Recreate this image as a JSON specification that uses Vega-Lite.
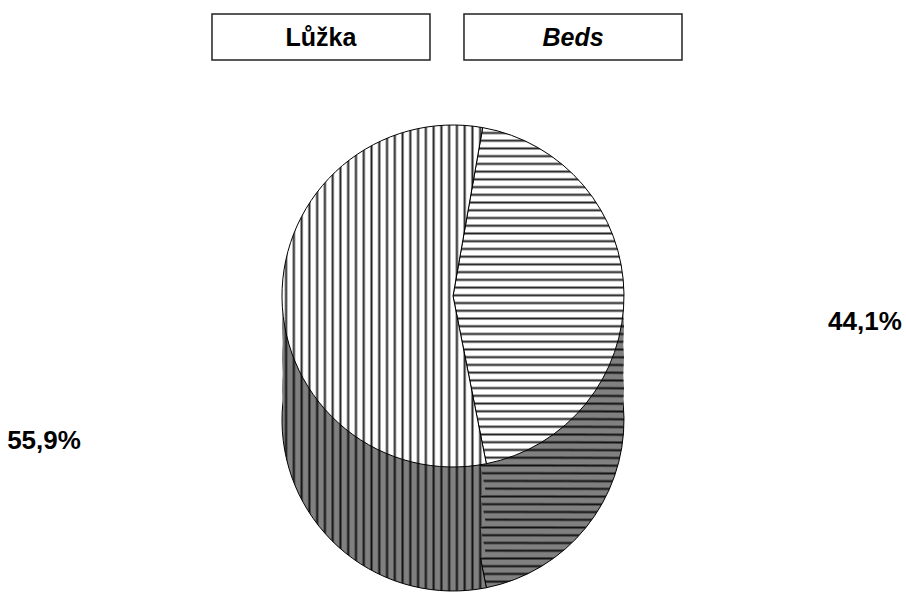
{
"$schema":"https://vega.github.io/schema/vega-lite/v6.json",
"width":906,"height":593,
"autosize":{"type":"fit","contains":"padding"},
"padding":0,
"background":"white",
"config":{"view":{"stroke":null},"locale":{"number":{"decimal":",","thousands":" ","grouping":[3],"currency":[""," Kč"]}}},
"params":[
{"name":"gTA","value":{"gradient":"linear","x1":0,"y1":0,"x2":0,"y2":1,"stops":[
{"offset":0.010,"color":"#fff"},{"offset":0.016,"color":"#222"},{"offset":0.022,"color":"#fff"},
{"offset":0.033,"color":"#fff"},{"offset":0.039,"color":"#222"},{"offset":0.045,"color":"#fff"},
{"offset":0.056,"color":"#fff"},{"offset":0.062,"color":"#222"},{"offset":0.068,"color":"#fff"},
{"offset":0.079,"color":"#fff"},{"offset":0.085,"color":"#222"},{"offset":0.091,"color":"#fff"},
{"offset":0.102,"color":"#fff"},{"offset":0.108,"color":"#222"},{"offset":0.114,"color":"#fff"},
{"offset":0.125,"color":"#fff"},{"offset":0.131,"color":"#222"},{"offset":0.137,"color":"#fff"},
{"offset":0.148,"color":"#fff"},{"offset":0.154,"color":"#222"},{"offset":0.160,"color":"#fff"},
{"offset":0.171,"color":"#fff"},{"offset":0.177,"color":"#222"},{"offset":0.183,"color":"#fff"},
{"offset":0.194,"color":"#fff"},{"offset":0.200,"color":"#222"},{"offset":0.206,"color":"#fff"},
{"offset":0.217,"color":"#fff"},{"offset":0.223,"color":"#222"},{"offset":0.229,"color":"#fff"},
{"offset":0.240,"color":"#fff"},{"offset":0.246,"color":"#222"},{"offset":0.252,"color":"#fff"},
{"offset":0.263,"color":"#fff"},{"offset":0.269,"color":"#222"},{"offset":0.275,"color":"#fff"},
{"offset":0.286,"color":"#fff"},{"offset":0.292,"color":"#222"},{"offset":0.298,"color":"#fff"},
{"offset":0.309,"color":"#fff"},{"offset":0.315,"color":"#222"},{"offset":0.321,"color":"#fff"},
{"offset":0.332,"color":"#fff"},{"offset":0.338,"color":"#222"},{"offset":0.344,"color":"#fff"},
{"offset":0.355,"color":"#fff"},{"offset":0.361,"color":"#222"},{"offset":0.367,"color":"#fff"},
{"offset":0.378,"color":"#fff"},{"offset":0.384,"color":"#222"},{"offset":0.390,"color":"#fff"},
{"offset":0.401,"color":"#fff"},{"offset":0.407,"color":"#222"},{"offset":0.413,"color":"#fff"},
{"offset":0.424,"color":"#fff"},{"offset":0.430,"color":"#222"},{"offset":0.436,"color":"#fff"},
{"offset":0.447,"color":"#fff"},{"offset":0.453,"color":"#222"},{"offset":0.459,"color":"#fff"},
{"offset":0.470,"color":"#fff"},{"offset":0.476,"color":"#222"},{"offset":0.482,"color":"#fff"},
{"offset":0.493,"color":"#fff"},{"offset":0.499,"color":"#222"},{"offset":0.505,"color":"#fff"},
{"offset":0.516,"color":"#fff"},{"offset":0.522,"color":"#222"},{"offset":0.528,"color":"#fff"},
{"offset":0.539,"color":"#fff"},{"offset":0.545,"color":"#222"},{"offset":0.551,"color":"#fff"},
{"offset":0.562,"color":"#fff"},{"offset":0.568,"color":"#222"},{"offset":0.574,"color":"#fff"},
{"offset":0.585,"color":"#fff"},{"offset":0.591,"color":"#222"},{"offset":0.597,"color":"#fff"},
{"offset":0.608,"color":"#fff"},{"offset":0.614,"color":"#222"},{"offset":0.620,"color":"#fff"},
{"offset":0.631,"color":"#fff"},{"offset":0.637,"color":"#222"},{"offset":0.643,"color":"#fff"},
{"offset":0.654,"color":"#fff"},{"offset":0.660,"color":"#222"},{"offset":0.666,"color":"#fff"},
{"offset":0.677,"color":"#fff"},{"offset":0.683,"color":"#222"},{"offset":0.689,"color":"#fff"},
{"offset":0.700,"color":"#fff"},{"offset":0.706,"color":"#222"},{"offset":0.712,"color":"#fff"},
{"offset":0.723,"color":"#fff"},{"offset":0.729,"color":"#222"},{"offset":0.735,"color":"#fff"},
{"offset":0.746,"color":"#fff"},{"offset":0.752,"color":"#222"},{"offset":0.758,"color":"#fff"},
{"offset":0.769,"color":"#fff"},{"offset":0.775,"color":"#222"},{"offset":0.781,"color":"#fff"},
{"offset":0.792,"color":"#fff"},{"offset":0.798,"color":"#222"},{"offset":0.804,"color":"#fff"},
{"offset":0.815,"color":"#fff"},{"offset":0.821,"color":"#222"},{"offset":0.827,"color":"#fff"},
{"offset":0.838,"color":"#fff"},{"offset":0.844,"color":"#222"},{"offset":0.850,"color":"#fff"},
{"offset":0.861,"color":"#fff"},{"offset":0.867,"color":"#222"},{"offset":0.873,"color":"#fff"},
{"offset":0.884,"color":"#fff"},{"offset":0.890,"color":"#222"},{"offset":0.896,"color":"#fff"},
{"offset":0.907,"color":"#fff"},{"offset":0.913,"color":"#222"},{"offset":0.919,"color":"#fff"},
{"offset":0.930,"color":"#fff"},{"offset":0.936,"color":"#222"},{"offset":0.942,"color":"#fff"},
{"offset":0.953,"color":"#fff"},{"offset":0.959,"color":"#222"},{"offset":0.965,"color":"#fff"},
{"offset":0.976,"color":"#fff"},{"offset":0.982,"color":"#222"},{"offset":0.988,"color":"#fff"}]}},
{"name":"gSA","value":{"gradient":"linear","x1":0,"y1":0,"x2":0,"y2":1,"stops":[
{"offset":0.010,"color":"#808080"},{"offset":0.016,"color":"#111"},{"offset":0.022,"color":"#808080"},
{"offset":0.033,"color":"#808080"},{"offset":0.039,"color":"#111"},{"offset":0.045,"color":"#808080"},
{"offset":0.056,"color":"#808080"},{"offset":0.062,"color":"#111"},{"offset":0.068,"color":"#808080"},
{"offset":0.079,"color":"#808080"},{"offset":0.085,"color":"#111"},{"offset":0.091,"color":"#808080"},
{"offset":0.102,"color":"#808080"},{"offset":0.108,"color":"#111"},{"offset":0.114,"color":"#808080"},
{"offset":0.125,"color":"#808080"},{"offset":0.131,"color":"#111"},{"offset":0.137,"color":"#808080"},
{"offset":0.148,"color":"#808080"},{"offset":0.154,"color":"#111"},{"offset":0.160,"color":"#808080"},
{"offset":0.171,"color":"#808080"},{"offset":0.177,"color":"#111"},{"offset":0.183,"color":"#808080"},
{"offset":0.194,"color":"#808080"},{"offset":0.200,"color":"#111"},{"offset":0.206,"color":"#808080"},
{"offset":0.217,"color":"#808080"},{"offset":0.223,"color":"#111"},{"offset":0.229,"color":"#808080"},
{"offset":0.240,"color":"#808080"},{"offset":0.246,"color":"#111"},{"offset":0.252,"color":"#808080"},
{"offset":0.263,"color":"#808080"},{"offset":0.269,"color":"#111"},{"offset":0.275,"color":"#808080"},
{"offset":0.286,"color":"#808080"},{"offset":0.292,"color":"#111"},{"offset":0.298,"color":"#808080"},
{"offset":0.309,"color":"#808080"},{"offset":0.315,"color":"#111"},{"offset":0.321,"color":"#808080"},
{"offset":0.332,"color":"#808080"},{"offset":0.338,"color":"#111"},{"offset":0.344,"color":"#808080"},
{"offset":0.355,"color":"#808080"},{"offset":0.361,"color":"#111"},{"offset":0.367,"color":"#808080"},
{"offset":0.378,"color":"#808080"},{"offset":0.384,"color":"#111"},{"offset":0.390,"color":"#808080"},
{"offset":0.401,"color":"#808080"},{"offset":0.407,"color":"#111"},{"offset":0.413,"color":"#808080"},
{"offset":0.424,"color":"#808080"},{"offset":0.430,"color":"#111"},{"offset":0.436,"color":"#808080"},
{"offset":0.447,"color":"#808080"},{"offset":0.453,"color":"#111"},{"offset":0.459,"color":"#808080"},
{"offset":0.470,"color":"#808080"},{"offset":0.476,"color":"#111"},{"offset":0.482,"color":"#808080"},
{"offset":0.493,"color":"#808080"},{"offset":0.499,"color":"#111"},{"offset":0.505,"color":"#808080"},
{"offset":0.516,"color":"#808080"},{"offset":0.522,"color":"#111"},{"offset":0.528,"color":"#808080"},
{"offset":0.539,"color":"#808080"},{"offset":0.545,"color":"#111"},{"offset":0.551,"color":"#808080"},
{"offset":0.562,"color":"#808080"},{"offset":0.568,"color":"#111"},{"offset":0.574,"color":"#808080"},
{"offset":0.585,"color":"#808080"},{"offset":0.591,"color":"#111"},{"offset":0.597,"color":"#808080"},
{"offset":0.608,"color":"#808080"},{"offset":0.614,"color":"#111"},{"offset":0.620,"color":"#808080"},
{"offset":0.631,"color":"#808080"},{"offset":0.637,"color":"#111"},{"offset":0.643,"color":"#808080"},
{"offset":0.654,"color":"#808080"},{"offset":0.660,"color":"#111"},{"offset":0.666,"color":"#808080"},
{"offset":0.677,"color":"#808080"},{"offset":0.683,"color":"#111"},{"offset":0.689,"color":"#808080"},
{"offset":0.700,"color":"#808080"},{"offset":0.706,"color":"#111"},{"offset":0.712,"color":"#808080"},
{"offset":0.723,"color":"#808080"},{"offset":0.729,"color":"#111"},{"offset":0.735,"color":"#808080"},
{"offset":0.746,"color":"#808080"},{"offset":0.752,"color":"#111"},{"offset":0.758,"color":"#808080"},
{"offset":0.769,"color":"#808080"},{"offset":0.775,"color":"#111"},{"offset":0.781,"color":"#808080"},
{"offset":0.792,"color":"#808080"},{"offset":0.798,"color":"#111"},{"offset":0.804,"color":"#808080"},
{"offset":0.815,"color":"#808080"},{"offset":0.821,"color":"#111"},{"offset":0.827,"color":"#808080"},
{"offset":0.838,"color":"#808080"},{"offset":0.844,"color":"#111"},{"offset":0.850,"color":"#808080"},
{"offset":0.861,"color":"#808080"},{"offset":0.867,"color":"#111"},{"offset":0.873,"color":"#808080"},
{"offset":0.884,"color":"#808080"},{"offset":0.890,"color":"#111"},{"offset":0.896,"color":"#808080"},
{"offset":0.907,"color":"#808080"},{"offset":0.913,"color":"#111"},{"offset":0.919,"color":"#808080"},
{"offset":0.930,"color":"#808080"},{"offset":0.936,"color":"#111"},{"offset":0.942,"color":"#808080"},
{"offset":0.953,"color":"#808080"},{"offset":0.959,"color":"#111"},{"offset":0.965,"color":"#808080"},
{"offset":0.976,"color":"#808080"},{"offset":0.982,"color":"#111"},{"offset":0.988,"color":"#808080"}]}},
{"name":"gTB","value":{"gradient":"linear","x1":0,"y1":0,"x2":1,"y2":0,"stops":[
{"offset":0.010,"color":"#fff"},{"offset":0.020,"color":"#222"},{"offset":0.030,"color":"#fff"},
{"offset":0.048,"color":"#fff"},{"offset":0.058,"color":"#222"},{"offset":0.068,"color":"#fff"},
{"offset":0.086,"color":"#fff"},{"offset":0.096,"color":"#222"},{"offset":0.106,"color":"#fff"},
{"offset":0.124,"color":"#fff"},{"offset":0.134,"color":"#222"},{"offset":0.144,"color":"#fff"},
{"offset":0.162,"color":"#fff"},{"offset":0.172,"color":"#222"},{"offset":0.182,"color":"#fff"},
{"offset":0.200,"color":"#fff"},{"offset":0.210,"color":"#222"},{"offset":0.220,"color":"#fff"},
{"offset":0.238,"color":"#fff"},{"offset":0.248,"color":"#222"},{"offset":0.258,"color":"#fff"},
{"offset":0.276,"color":"#fff"},{"offset":0.286,"color":"#222"},{"offset":0.296,"color":"#fff"},
{"offset":0.314,"color":"#fff"},{"offset":0.324,"color":"#222"},{"offset":0.334,"color":"#fff"},
{"offset":0.352,"color":"#fff"},{"offset":0.362,"color":"#222"},{"offset":0.372,"color":"#fff"},
{"offset":0.390,"color":"#fff"},{"offset":0.400,"color":"#222"},{"offset":0.410,"color":"#fff"},
{"offset":0.428,"color":"#fff"},{"offset":0.438,"color":"#222"},{"offset":0.448,"color":"#fff"},
{"offset":0.466,"color":"#fff"},{"offset":0.476,"color":"#222"},{"offset":0.486,"color":"#fff"},
{"offset":0.504,"color":"#fff"},{"offset":0.514,"color":"#222"},{"offset":0.524,"color":"#fff"},
{"offset":0.542,"color":"#fff"},{"offset":0.552,"color":"#222"},{"offset":0.562,"color":"#fff"},
{"offset":0.580,"color":"#fff"},{"offset":0.590,"color":"#222"},{"offset":0.600,"color":"#fff"},
{"offset":0.618,"color":"#fff"},{"offset":0.628,"color":"#222"},{"offset":0.638,"color":"#fff"},
{"offset":0.656,"color":"#fff"},{"offset":0.666,"color":"#222"},{"offset":0.676,"color":"#fff"},
{"offset":0.694,"color":"#fff"},{"offset":0.704,"color":"#222"},{"offset":0.714,"color":"#fff"},
{"offset":0.732,"color":"#fff"},{"offset":0.742,"color":"#222"},{"offset":0.752,"color":"#fff"},
{"offset":0.770,"color":"#fff"},{"offset":0.780,"color":"#222"},{"offset":0.790,"color":"#fff"},
{"offset":0.808,"color":"#fff"},{"offset":0.818,"color":"#222"},{"offset":0.828,"color":"#fff"},
{"offset":0.846,"color":"#fff"},{"offset":0.856,"color":"#222"},{"offset":0.866,"color":"#fff"},
{"offset":0.884,"color":"#fff"},{"offset":0.894,"color":"#222"},{"offset":0.904,"color":"#fff"},
{"offset":0.922,"color":"#fff"},{"offset":0.932,"color":"#222"},{"offset":0.942,"color":"#fff"},
{"offset":0.960,"color":"#fff"},{"offset":0.970,"color":"#222"},{"offset":0.980,"color":"#fff"}]}},
{"name":"gSB","value":{"gradient":"linear","x1":0,"y1":0,"x2":1,"y2":0,"stops":[
{"offset":0.010,"color":"#808080"},{"offset":0.020,"color":"#111"},{"offset":0.030,"color":"#808080"},
{"offset":0.048,"color":"#808080"},{"offset":0.058,"color":"#111"},{"offset":0.068,"color":"#808080"},
{"offset":0.086,"color":"#808080"},{"offset":0.096,"color":"#111"},{"offset":0.106,"color":"#808080"},
{"offset":0.124,"color":"#808080"},{"offset":0.134,"color":"#111"},{"offset":0.144,"color":"#808080"},
{"offset":0.162,"color":"#808080"},{"offset":0.172,"color":"#111"},{"offset":0.182,"color":"#808080"},
{"offset":0.200,"color":"#808080"},{"offset":0.210,"color":"#111"},{"offset":0.220,"color":"#808080"},
{"offset":0.238,"color":"#808080"},{"offset":0.248,"color":"#111"},{"offset":0.258,"color":"#808080"},
{"offset":0.276,"color":"#808080"},{"offset":0.286,"color":"#111"},{"offset":0.296,"color":"#808080"},
{"offset":0.314,"color":"#808080"},{"offset":0.324,"color":"#111"},{"offset":0.334,"color":"#808080"},
{"offset":0.352,"color":"#808080"},{"offset":0.362,"color":"#111"},{"offset":0.372,"color":"#808080"},
{"offset":0.390,"color":"#808080"},{"offset":0.400,"color":"#111"},{"offset":0.410,"color":"#808080"},
{"offset":0.428,"color":"#808080"},{"offset":0.438,"color":"#111"},{"offset":0.448,"color":"#808080"},
{"offset":0.466,"color":"#808080"},{"offset":0.476,"color":"#111"},{"offset":0.486,"color":"#808080"},
{"offset":0.504,"color":"#808080"},{"offset":0.514,"color":"#111"},{"offset":0.524,"color":"#808080"},
{"offset":0.542,"color":"#808080"},{"offset":0.552,"color":"#111"},{"offset":0.562,"color":"#808080"},
{"offset":0.580,"color":"#808080"},{"offset":0.590,"color":"#111"},{"offset":0.600,"color":"#808080"},
{"offset":0.618,"color":"#808080"},{"offset":0.628,"color":"#111"},{"offset":0.638,"color":"#808080"},
{"offset":0.656,"color":"#808080"},{"offset":0.666,"color":"#111"},{"offset":0.676,"color":"#808080"},
{"offset":0.694,"color":"#808080"},{"offset":0.704,"color":"#111"},{"offset":0.714,"color":"#808080"},
{"offset":0.732,"color":"#808080"},{"offset":0.742,"color":"#111"},{"offset":0.752,"color":"#808080"},
{"offset":0.770,"color":"#808080"},{"offset":0.780,"color":"#111"},{"offset":0.790,"color":"#808080"},
{"offset":0.808,"color":"#808080"},{"offset":0.818,"color":"#111"},{"offset":0.828,"color":"#808080"},
{"offset":0.846,"color":"#808080"},{"offset":0.856,"color":"#111"},{"offset":0.866,"color":"#808080"},
{"offset":0.884,"color":"#808080"},{"offset":0.894,"color":"#111"},{"offset":0.904,"color":"#808080"},
{"offset":0.922,"color":"#808080"},{"offset":0.932,"color":"#111"},{"offset":0.942,"color":"#808080"},
{"offset":0.960,"color":"#808080"},{"offset":0.970,"color":"#111"},{"offset":0.980,"color":"#808080"}]}}
],
"datasets":{
"pie":[{"k":"A","value":0.441},{"k":"B","value":0.559}],
"hdr":[{"t":"Lůžka"},{"t":"Beds"}]
},
"layer":[
{"data":{"name":"pie"},
 "transform":[{"stack":"value","groupby":[],"sort":[{"field":"k","order":"ascending"}],"as":["v0","v1"]}],
 "layer":[
  {"encoding":{
     "theta":{"field":"v0","type":"quantitative","scale":{"domain":[0,1],"range":[0.1745,6.4577]}},
     "theta2":{"field":"v1"}
   },
   "layer":[
    {"transform":[{"filter":"datum.k==='A'"}],"mark":{"type":"arc","outerRadius":171,"yOffset":124,"fill":{"expr":"gSA"},"stroke":"black","strokeWidth":1}},
    {"transform":[{"filter":"datum.k==='B'"}],"mark":{"type":"arc","outerRadius":171,"yOffset":124,"fill":{"expr":"gSB"},"stroke":"black","strokeWidth":1}},
    {"transform":[{"filter":"datum.k==='A'"}],"mark":{"type":"arc","outerRadius":171,"yOffset":93,"fill":{"expr":"gSA"},"strokeWidth":0}},
    {"transform":[{"filter":"datum.k==='B'"}],"mark":{"type":"arc","outerRadius":171,"yOffset":93,"fill":{"expr":"gSB"},"strokeWidth":0}},
    {"transform":[{"filter":"datum.k==='A'"}],"mark":{"type":"arc","outerRadius":171,"yOffset":62,"fill":{"expr":"gSA"},"strokeWidth":0}},
    {"transform":[{"filter":"datum.k==='B'"}],"mark":{"type":"arc","outerRadius":171,"yOffset":62,"fill":{"expr":"gSB"},"strokeWidth":0}},
    {"transform":[{"filter":"datum.k==='A'"}],"mark":{"type":"arc","outerRadius":171,"yOffset":31,"fill":{"expr":"gSA"},"strokeWidth":0}},
    {"transform":[{"filter":"datum.k==='B'"}],"mark":{"type":"arc","outerRadius":171,"yOffset":31,"fill":{"expr":"gSB"},"strokeWidth":0}},
    {"transform":[{"filter":"datum.k==='A'"}],"mark":{"type":"arc","outerRadius":171,"fill":{"expr":"gTA"},"stroke":"black","strokeWidth":1}},
    {"transform":[{"filter":"datum.k==='B'"}],"mark":{"type":"arc","outerRadius":171,"fill":{"expr":"gTB"},"stroke":"black","strokeWidth":1}}
   ]},
  {"encoding":{
     "theta":{"field":"value","type":"quantitative","stack":true,"scale":{"domain":[0,1],"range":[0.1745,6.4577]}}
   },
   "layer":[
    {"mark":{"type":"text","radius":412,"dy":30,"font":"Liberation Sans","fontWeight":"bold","fontSize":26,"align":"center","baseline":"middle","fill":"black"},
     "encoding":{"text":{"condition":{"test":"datum.k==='B'","value":""},"field":"value","type":"quantitative","format":".1%"}}},
    {"mark":{"type":"text","radius":409,"dy":141,"font":"Liberation Sans","fontWeight":"bold","fontSize":26,"align":"center","baseline":"middle","fill":"black"},
     "encoding":{"text":{"condition":{"test":"datum.k==='A'","value":""},"field":"value","type":"quantitative","format":".1%"}}}
   ]}
 ]},
{"data":{"name":"hdr"},
 "encoding":{
   "x":{"field":"t","type":"nominal","sort":null,"axis":null,"scale":{"domain":["Lůžka","Beds"],"paddingInner":0.1349,"paddingOuter":0.86508,"align":0.4862}},
   "y":{"datum":"h","type":"nominal","axis":null,"scale":{"domain":["h"],"paddingInner":1,"paddingOuter":1,"align":0.0624}}
 },
 "layer":[
  {"mark":{"type":"rect","height":46,"fill":"white","stroke":"#222","strokeWidth":1.5}},
  {"transform":[{"filter":"datum.t==='Lůžka'"}],"mark":{"type":"text","font":"Liberation Sans","fontWeight":"bold","fontSize":25,"align":"center","baseline":"alphabetic","dy":9,"fill":"black"},"encoding":{"text":{"field":"t"}}},
  {"transform":[{"filter":"datum.t==='Beds'"}],"mark":{"type":"text","font":"Liberation Sans","fontWeight":"bold","fontStyle":"italic","fontSize":25,"align":"center","baseline":"alphabetic","dy":9,"fill":"black"},"encoding":{"text":{"field":"t"}}}
 ]}
]
}
